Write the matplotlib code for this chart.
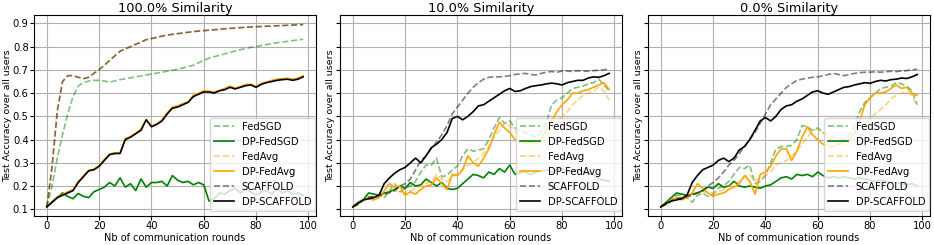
import matplotlib
matplotlib.use("Agg")
import matplotlib.pyplot as plt
import numpy as np

rounds = np.arange(0, 100, 2)
similarities = ["100.0% Similarity", "10.0% Similarity", "0.0% Similarity"]
labels = ["FedSGD", "DP-FedSGD", "FedAvg", "DP-FedAvg", "SCAFFOLD", "DP-SCAFFOLD"]

# 100% similarity
fedsgd_100 = [0.11, 0.20, 0.32, 0.42, 0.51, 0.585, 0.63, 0.645, 0.652, 0.655,
              0.655, 0.652, 0.648, 0.652, 0.658, 0.662, 0.666, 0.670, 0.674, 0.678,
              0.682, 0.686, 0.690, 0.694, 0.698, 0.703, 0.708, 0.714, 0.720, 0.730,
              0.742, 0.750, 0.757, 0.763, 0.769, 0.775, 0.781, 0.787, 0.792, 0.797,
              0.800, 0.805, 0.809, 0.813, 0.817, 0.820, 0.823, 0.826, 0.829, 0.832]
dp_fedsgd_100 = [0.11, 0.13, 0.15, 0.17, 0.155, 0.145, 0.168, 0.155, 0.15, 0.175,
                 0.185, 0.195, 0.215, 0.20, 0.235, 0.195, 0.21, 0.18, 0.23, 0.195,
                 0.215, 0.215, 0.22, 0.20, 0.245, 0.225, 0.215, 0.22, 0.205, 0.215,
                 0.205, 0.135, 0.145, 0.17, 0.165, 0.18, 0.19, 0.17, 0.185, 0.175,
                 0.16, 0.175, 0.18, 0.165, 0.19, 0.17, 0.18, 0.165, 0.17, 0.16]
fedavg_100 = [0.11, 0.29, 0.53, 0.648, 0.676, 0.676, 0.669, 0.663, 0.669, 0.686,
              0.702, 0.722, 0.742, 0.762, 0.781, 0.791, 0.801, 0.811, 0.821, 0.830,
              0.835, 0.840, 0.845, 0.850, 0.853, 0.856, 0.859, 0.862, 0.865, 0.867,
              0.869, 0.871, 0.873, 0.875, 0.877, 0.879, 0.880, 0.882, 0.883, 0.885,
              0.886, 0.887, 0.888, 0.889, 0.890, 0.891, 0.892, 0.893, 0.894, 0.895]
dp_fedavg_100 = [0.11, 0.132, 0.152, 0.163, 0.175, 0.183, 0.218, 0.243, 0.268, 0.272,
                 0.288, 0.315, 0.338, 0.343, 0.342, 0.405, 0.413, 0.428, 0.445, 0.487,
                 0.458, 0.468, 0.484, 0.515, 0.54, 0.545, 0.555, 0.562, 0.59, 0.60,
                 0.61, 0.608, 0.605, 0.612, 0.62, 0.63, 0.622, 0.628, 0.637, 0.638,
                 0.628, 0.642, 0.648, 0.655, 0.66, 0.662, 0.663, 0.66, 0.665, 0.675]
scaffold_100 = [0.11, 0.28, 0.52, 0.65, 0.675, 0.675, 0.668, 0.662, 0.668, 0.685,
                0.70, 0.72, 0.74, 0.76, 0.78, 0.79, 0.80, 0.81, 0.82, 0.83,
                0.835, 0.84, 0.845, 0.85, 0.853, 0.856, 0.859, 0.862, 0.865, 0.867,
                0.869, 0.871, 0.873, 0.875, 0.877, 0.879, 0.88, 0.882, 0.883, 0.885,
                0.886, 0.887, 0.888, 0.889, 0.89, 0.891, 0.892, 0.893, 0.894, 0.895]
dp_scaffold_100 = [0.11, 0.13, 0.15, 0.16, 0.17, 0.18, 0.215, 0.24, 0.265, 0.27,
                   0.285, 0.31, 0.335, 0.34, 0.34, 0.40, 0.41, 0.425, 0.44, 0.485,
                   0.455, 0.465, 0.48, 0.51, 0.535, 0.54, 0.55, 0.56, 0.585, 0.595,
                   0.605, 0.605, 0.60, 0.61, 0.615, 0.625, 0.618, 0.625, 0.632, 0.635,
                   0.625, 0.638, 0.645, 0.65, 0.655, 0.658, 0.66, 0.655, 0.66, 0.67]

# 10% similarity
fedsgd_10 = [0.11, 0.125, 0.14, 0.155, 0.15, 0.16, 0.15, 0.18, 0.21, 0.175,
             0.19, 0.20, 0.22, 0.26, 0.29, 0.29, 0.32, 0.24, 0.245, 0.27,
             0.285, 0.33, 0.36, 0.35, 0.355, 0.36, 0.40, 0.45, 0.495, 0.47,
             0.48, 0.45, 0.44, 0.43, 0.42, 0.41, 0.43, 0.47, 0.55, 0.57,
             0.58, 0.60, 0.62, 0.625, 0.63, 0.64, 0.645, 0.66, 0.635, 0.61]
dp_fedsgd_10 = [0.11, 0.13, 0.14, 0.17, 0.165, 0.16, 0.17, 0.175, 0.185, 0.20,
                0.19, 0.215, 0.20, 0.205, 0.23, 0.215, 0.20, 0.215, 0.19, 0.185,
                0.19, 0.21, 0.23, 0.25, 0.245, 0.235, 0.26, 0.25, 0.275, 0.26,
                0.29, 0.25, 0.255, 0.26, 0.25, 0.26, 0.265, 0.27, 0.26, 0.27,
                0.275, 0.26, 0.265, 0.27, 0.26, 0.255, 0.25, 0.23, 0.225, 0.22]
fedavg_10 = [0.11, 0.12, 0.14, 0.15, 0.145, 0.155, 0.16, 0.175, 0.18, 0.175,
             0.17, 0.18, 0.19, 0.20, 0.21, 0.22, 0.25, 0.23, 0.22, 0.24,
             0.25, 0.27, 0.29, 0.30, 0.32, 0.34, 0.37, 0.41, 0.44, 0.47,
             0.46, 0.44, 0.42, 0.40, 0.395, 0.39, 0.385, 0.40, 0.44, 0.48,
             0.50, 0.52, 0.55, 0.57, 0.59, 0.60, 0.61, 0.625, 0.61, 0.57]
dp_fedavg_10 = [0.11, 0.125, 0.14, 0.145, 0.14, 0.15, 0.18, 0.21, 0.195, 0.20,
                0.16, 0.175, 0.165, 0.185, 0.20, 0.205, 0.235, 0.21, 0.185, 0.25,
                0.245, 0.27, 0.33, 0.30, 0.285, 0.32, 0.36, 0.42, 0.475, 0.45,
                0.43, 0.40, 0.39, 0.385, 0.39, 0.38, 0.40, 0.44, 0.48, 0.52,
                0.55, 0.57, 0.60, 0.60, 0.61, 0.615, 0.625, 0.635, 0.645, 0.615]
scaffold_10 = [0.11, 0.12, 0.14, 0.15, 0.155, 0.16, 0.165, 0.17, 0.18, 0.20,
               0.21, 0.23, 0.27, 0.31, 0.33, 0.36, 0.39, 0.42, 0.46, 0.51,
               0.54, 0.57, 0.60, 0.625, 0.645, 0.66, 0.668, 0.67, 0.67, 0.672,
               0.675, 0.68, 0.683, 0.685, 0.68, 0.678, 0.685, 0.69, 0.693, 0.69,
               0.695, 0.695, 0.693, 0.696, 0.695, 0.694, 0.697, 0.698, 0.70, 0.705]
dp_scaffold_10 = [0.11, 0.125, 0.14, 0.145, 0.15, 0.16, 0.21, 0.235, 0.255, 0.27,
                  0.28, 0.30, 0.32, 0.30, 0.33, 0.365, 0.38, 0.40, 0.43, 0.49,
                  0.50, 0.485, 0.50, 0.52, 0.545, 0.55, 0.565, 0.58, 0.595, 0.61,
                  0.62, 0.607, 0.61, 0.62, 0.628, 0.632, 0.635, 0.64, 0.643, 0.64,
                  0.635, 0.645, 0.65, 0.655, 0.655, 0.665, 0.67, 0.668, 0.675, 0.685]

# 0% similarity
fedsgd_0 = [0.11, 0.125, 0.14, 0.16, 0.16, 0.15, 0.13, 0.16, 0.17, 0.155,
            0.165, 0.19, 0.20, 0.22, 0.25, 0.28, 0.275, 0.29, 0.21, 0.22,
            0.245, 0.30, 0.36, 0.37, 0.37, 0.375, 0.40, 0.46, 0.455, 0.44,
            0.45, 0.43, 0.42, 0.41, 0.40, 0.40, 0.42, 0.46, 0.52, 0.56,
            0.58, 0.60, 0.62, 0.625, 0.63, 0.645, 0.64, 0.63, 0.61, 0.55]
dp_fedsgd_0 = [0.11, 0.13, 0.15, 0.17, 0.165, 0.16, 0.165, 0.17, 0.18, 0.195,
               0.19, 0.21, 0.195, 0.20, 0.22, 0.20, 0.195, 0.20, 0.195, 0.19,
               0.20, 0.205, 0.22, 0.235, 0.24, 0.23, 0.25, 0.245, 0.25, 0.24,
               0.26, 0.245, 0.235, 0.24, 0.235, 0.24, 0.235, 0.23, 0.235, 0.23,
               0.225, 0.22, 0.225, 0.22, 0.215, 0.215, 0.21, 0.205, 0.21, 0.20]
fedavg_0 = [0.11, 0.12, 0.135, 0.145, 0.15, 0.155, 0.16, 0.17, 0.175, 0.175,
            0.17, 0.175, 0.185, 0.20, 0.21, 0.22, 0.24, 0.25, 0.22, 0.235,
            0.245, 0.26, 0.29, 0.30, 0.31, 0.33, 0.35, 0.38, 0.41, 0.44,
            0.445, 0.43, 0.41, 0.39, 0.38, 0.38, 0.37, 0.38, 0.41, 0.46,
            0.49, 0.51, 0.53, 0.55, 0.575, 0.59, 0.60, 0.605, 0.59, 0.545]
dp_fedavg_0 = [0.11, 0.125, 0.14, 0.15, 0.14, 0.15, 0.17, 0.21, 0.19, 0.17,
               0.155, 0.165, 0.17, 0.185, 0.195, 0.21, 0.245, 0.22, 0.165, 0.25,
               0.26, 0.285, 0.33, 0.36, 0.36, 0.31, 0.35, 0.41, 0.455, 0.42,
               0.40, 0.38, 0.375, 0.37, 0.38, 0.39, 0.40, 0.43, 0.48, 0.55,
               0.58, 0.60, 0.60, 0.605, 0.62, 0.635, 0.62, 0.625, 0.60, 0.59]
scaffold_0 = [0.11, 0.12, 0.135, 0.145, 0.15, 0.155, 0.16, 0.17, 0.18, 0.20,
              0.215, 0.235, 0.26, 0.29, 0.31, 0.34, 0.37, 0.40, 0.43, 0.47,
              0.51, 0.55, 0.575, 0.60, 0.625, 0.64, 0.655, 0.66, 0.665, 0.668,
              0.67, 0.675, 0.68, 0.685, 0.68, 0.675, 0.68, 0.685, 0.688, 0.69,
              0.69, 0.692, 0.69, 0.692, 0.694, 0.693, 0.695, 0.697, 0.70, 0.703]
dp_scaffold_0 = [0.11, 0.125, 0.135, 0.14, 0.145, 0.16, 0.215, 0.245, 0.27, 0.28,
                 0.29, 0.31, 0.32, 0.305, 0.32, 0.355, 0.37, 0.40, 0.44, 0.48,
                 0.495, 0.48, 0.50, 0.53, 0.545, 0.55, 0.565, 0.575, 0.59, 0.605,
                 0.61, 0.60, 0.595, 0.605, 0.615, 0.625, 0.628, 0.635, 0.64, 0.645,
                 0.642, 0.65, 0.655, 0.652, 0.658, 0.66, 0.665, 0.663, 0.67, 0.68]

panels = [
    [fedsgd_100, dp_fedsgd_100, fedavg_100, dp_fedavg_100, scaffold_100, dp_scaffold_100],
    [fedsgd_10, dp_fedsgd_10, fedavg_10, dp_fedavg_10, scaffold_10, dp_scaffold_10],
    [fedsgd_0, dp_fedsgd_0, fedavg_0, dp_fedavg_0, scaffold_0, dp_scaffold_0],
]

styles = [
    dict(color="green", linestyle="--", alpha=0.5),
    dict(color="green", linestyle="-"),
    dict(color="orange", linestyle="--", alpha=0.5),
    dict(color="orange", linestyle="-"),
    dict(color="black", linestyle="--", alpha=0.5),
    dict(color="black", linestyle="-"),
]


def main():
    W, H = 934, 245
    fig = plt.figure(figsize=(W / 100, H / 100), dpi=100)
    lefts = [34, 340, 648]
    width = 282
    top, bottom = 15.5, 216
    axes = []
    for i, left in enumerate(lefts):
        rect = [left / W, 1 - bottom / H, width / W, (bottom - top) / H]
        ax = fig.add_axes(rect, sharey=axes[0] if axes else None)
        axes.append(ax)
        for values, label, style in zip(panels[i], labels, styles):
            ax.plot(rounds, values, label=label, linewidth=1.2, **style)
        ax.set_title(similarities[i], fontsize=9.3, pad=2.5)
        ax.set_xlabel("Nb of communication rounds", fontsize=7, labelpad=1.5)
        ax.set_ylabel("Test Accuracy over all users", fontsize=6.8, labelpad=0.8)
        ax.grid(True)
        ax.set_yticks(np.arange(0.1, 0.95, 0.1))
        ax.tick_params(labelsize=7.2, length=2.6, pad=1.2)
        if i > 0:
            ax.tick_params(labelleft=False)
        ax.legend(loc="lower right", bbox_to_anchor=(1.008, 0.012),
                  fontsize=7.2, borderaxespad=0.3)
    fig.savefig("out.png", dpi=100)


if __name__ == "__main__":
    main()
